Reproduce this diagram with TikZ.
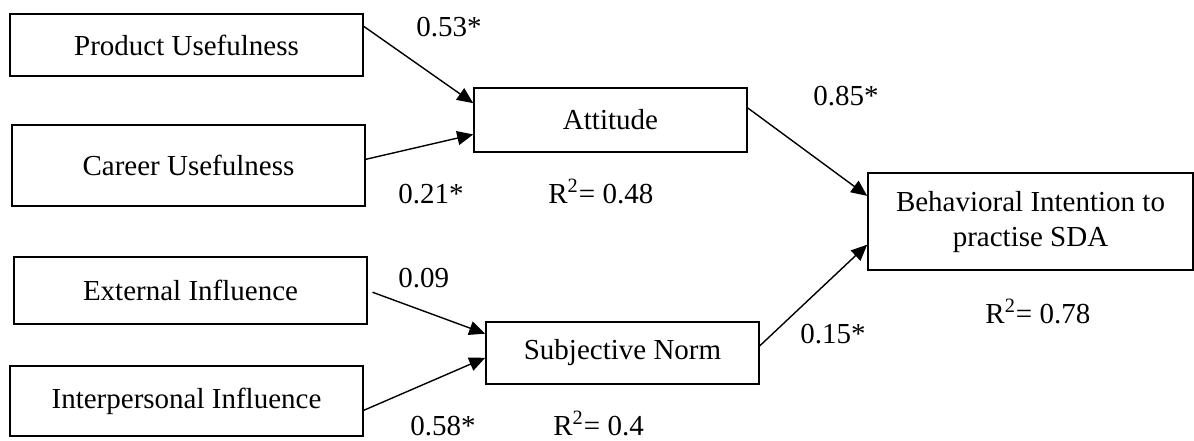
\documentclass[tikz,border=0pt]{standalone}
\usepackage{fontspec}
\setmainfont{Liberation Serif}
\usetikzlibrary{arrows.meta}

\begin{document}
\begin{tikzpicture}[
  x=0.5pt, y=-0.5pt,
  font=\fontsize{14.5}{17.5}\selectfont,
  factor/.style={draw,line width=.8pt,inner sep=0pt,align=center},
  link/.style={-{Triangle[length=8pt,width=7pt]},line width=.7pt},
  coef/.style={inner sep=0pt,anchor=base west},
]
\useasboundingbox (0,0) rectangle (1194,440);

% exogenous constructs
\foreach \x/\y/\h/\id/\title in {
186.5/45/31/prod/Product Usefulness,
188.5/165.5/40.5/career/Career Usefulness,
190.5/290.5/33.5/ext/External Influence,
186.5/401/35/inter/Interpersonal Influence}
  \node[factor,minimum width=176.5pt,minimum height=\h pt] (\id) at (\x,\y) {\title};

% mediators and outcome
\node[factor,minimum width=136.5pt,minimum height=32pt] (att) at (610.5,120) {Attitude};
\node[factor,minimum width=136.5pt,minimum height=31pt] (subj) at (622.5,353) {Subjective Norm};
\node[factor,minimum width=162.5pt,minimum height=48.5pt] (beh) at (1030.5,221.75) {Behavioral Intention to\\practise SDA};

\draw[link] (prod.6) -- (att.173);
\draw[link] (career.2) -- (att.186);
\draw[link] (att.5) -- (beh.171);
\draw[link,shorten <=2.5pt] (ext.east) -- (subj.172);
\draw[link] (inter.-3) -- (subj.182);
\draw[link] (subj.3) -- (beh.188);

% path coefficients
\node[coef] (c-prod) at (416,36) {0.53*};
\node[coef] (c-career) at (398,203) {0.21*};
\node[coef] (c-att) at (813,105) {0.85*};
\node[coef] (c-ext) at (398,287) {0.09};
\node[coef] (c-inter) at (410,435) {0.58*};
\node[coef] (c-subj) at (800,343) {0.15*};

% explained variance
\node[coef] (r-att) at (548,203) {R\textsuperscript{2}= 0.48};
\node[coef] (r-subj) at (553,435) {R\textsuperscript{2}= 0.4};
\node[coef] (r-beh) at (985,323) {R\textsuperscript{2}= 0.78};
\end{tikzpicture}
\end{document}
